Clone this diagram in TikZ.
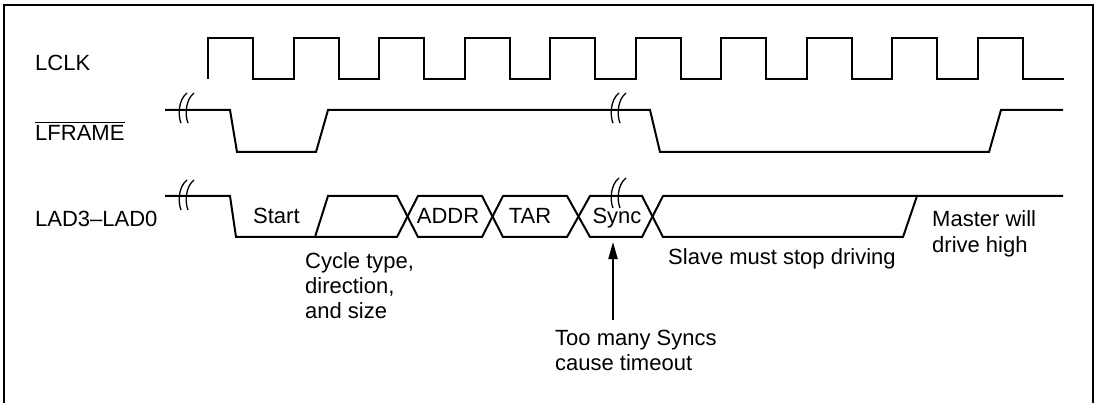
\documentclass[tikz,border=0pt]{standalone}
\usepackage{fontspec}
\setmainfont{Liberation Sans}
\usepackage{tikz}
\usetikzlibrary{arrows.meta, positioning, calc}

\begin{document}
\begin{tikzpicture}[
    x=1pt, y=-1pt,
    every node/.style = {inner sep=0pt, font=\fontsize{22}{25}\selectfont},
    lbl/.style    = {anchor=base west},
    ctr/.style    = {anchor=base},
    sig/.style    = {line width=2pt, line join=miter},
    frm/.style    = {line width=2.6pt},
    arr/.style    = {-{Triangle[length=17pt,width=9pt]}, line width=2pt},
    brk/.pic      = {
        \draw[line width=1.3pt] (5,-15) .. controls (-4,-8) and (-4,8) .. (-1,15);
        \draw[line width=1.3pt] (12,-15) .. controls (3,-8) and (3,8) .. (6,15);
    },
]
\useasboundingbox (0,0) rectangle (1099,403);

%% Frame
\draw[frm] (4,403) -- (4,5) -- (1093,5) -- (1093,403);

%% Signal names
\node[lbl] (nclk)   at (35,71)  {LCLK};
\node[lbl] (nframe) at (35,141) {LFRAME};
\draw[line width=1.3pt] ($(nframe.north west)+(0,-3)$) -- ($(nframe.north east)+(0,-3)$);
\node[lbl] (nlad)   at (35,226) {LAD3–LAD0};

%% LCLK
\draw[sig] (208,79) foreach \i in {0,...,9} {
    -- ++(0,-41) -- ++(45,0) -- ++(0,41) -- ++(40.55,0) };

%% LFRAME#
\draw[sig] (165,110) -- (230,110) -- (237,152) -- (316,152) -- (328,110)
    -- (650,110) -- (660,152) -- (989,152) -- (1001,110) -- (1063,110);

%% LAD3-LAD0
\draw[sig] (165,196) -- (230,196) -- (236,237) -- (397,237) -- (418,196)
    -- (482,196) -- (503,237) -- (567,237) -- (590,196) -- (642,196)
    -- (663,237) -- (903,237) -- (917,196) -- (1063,196);
\draw[sig] (315,237) -- (328,196) -- (397,196) -- (418,237) -- (482,237)
    -- (503,196) -- (567,196) -- (590,237) -- (642,237) -- (663,196)
    -- (917,196);

%% Breaks
\pic at (182,108) {brk};
\pic at (182,195) {brk};
\pic at (614,108) {brk};
\pic at (614,193) {brk};

%% Bus fields
\node[lbl] (start) at (253,224) {Start};
\node[ctr] (addr)  at (448,224) {ADDR};
\node[ctr] (tar)   at (530,224) {TAR};
\node[ctr] (sync)  at (617,224) {Sync};

%% Notes
\node[lbl] (cyc1) at (305,268) {Cycle type,};
\node[lbl] (cyc2) at (305,293) {direction,};
\node[lbl] (cyc3) at (305,318) {and size};
\node[lbl] (slave)  at (668,264) {Slave must stop driving};
\node[lbl] (mast1)  at (932,227) {Master will};
\node[lbl] (mast2)  at (932,252) {drive high};
\node[lbl] (many1)  at (555,345) {Too many Syncs};
\node[lbl] (many2)  at (555,370) {cause timeout};

%% Timeout arrow
\coordinate (tail) at (613,320);
\coordinate (tip)  at (613,242);
\draw[arr] (tail) -- (tip);

\end{tikzpicture}
\end{document}
